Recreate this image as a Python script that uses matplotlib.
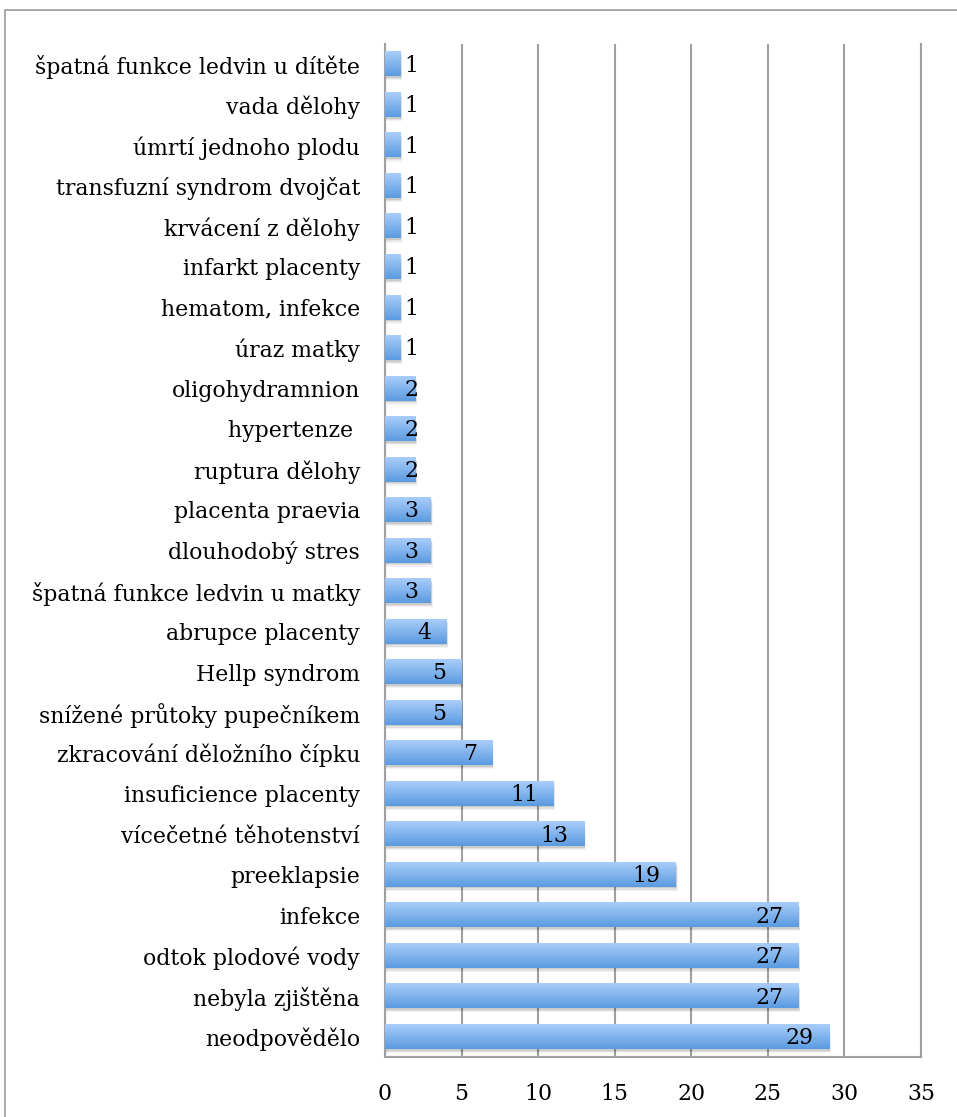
import matplotlib.pyplot as plt
from matplotlib.patches import Rectangle
import numpy as np

# data, bottom -> top
kategorie = ["neodpovědělo", "nebyla zjištěna", "odtok plodové vody", "infekce",
             "preeklapsie", "vícečetné těhotenství", "insuficience placenty",
             "zkracování děložního čípku", "snížené průtoky pupečníkem",
             "Hellp syndrom", "abrupce placenty", "špatná funkce ledvin u matky",
             "dlouhodobý stres", "placenta praevia", "ruptura dělohy",
             "hypertenze ", "oligohydramnion", "úraz matky", "hematom, infekce",
             "infarkt placenty", "krvácení z dělohy", "transfuzní syndrom dvojčat",
             "úmrtí jednoho plodu", "vada dělohy", "špatná funkce ledvin u dítěte"]
pocty = [29, 27, 27, 27, 19, 13, 11, 7, 5, 5, 4, 3, 3, 3, 2, 2, 2, 1, 1, 1, 1, 1, 1, 1, 1]
xticks = [0, 5, 10, 15, 20, 25, 30, 35]

plt.rcParams['font.family'] = ['DejaVu Serif']
fs = 15.8

fig = plt.figure(figsize=(9.57, 11.17), dpi=100)
ax = fig.add_axes([385/957, 1-1057/1117, (921-385)/957, (1057-44)/1117])

# outer frame
fig.patches.append(Rectangle((5/957, -0.01), 1.0, 1-10/1117+0.01, transform=fig.transFigure,
                             fill=False, edgecolor='#9a9a9a', linewidth=1.2))

y = np.arange(len(kategorie))
h = 0.6
grad = np.linspace(0, 1, 50).reshape(-1, 1)
cmap = plt.matplotlib.colors.LinearSegmentedColormap.from_list('g', ['#5b9be0', '#a9cdfa'])

for i, v in enumerate(pocty):
    # soft shadow
    for k, a in [(0.10, 0.05), (0.07, 0.07), (0.04, 0.09)]:
        ax.add_patch(Rectangle((0, i - h/2 - k), v + k * 1.2, h, facecolor='#000000', alpha=a,
                               edgecolor='none', zorder=2))
    ax.imshow(grad, extent=[0, v, i + h/2, i - h/2], cmap=cmap, aspect='auto',
              interpolation='bilinear', zorder=3)
    if v >= 4:
        ax.annotate(str(v), (v, i), xytext=(-11, -1), textcoords='offset points',
                    ha='right', va='center', fontsize=fs, zorder=4)
    else:
        ax.annotate(str(v), (0, i), xytext=(14, -1), textcoords='offset points',
                    ha='left', va='center', fontsize=fs, zorder=4)

ax.set_xlim(0, 35)
ax.set_ylim(-0.5, len(kategorie) - 0.5)
ax.set_xticks(xticks)
ax.set_yticks(y)
ax.set_yticklabels(kategorie, fontsize=fs)
ax.tick_params(axis='x', length=0, labelsize=fs, pad=19)
ax.tick_params(axis='y', length=0, pad=18)
ax.grid(axis='x', color='#a0a0a0', linewidth=1.5, zorder=1)
ax.set_axisbelow(True)
for s in ['left', 'bottom', 'right']:
    ax.spines[s].set_color('#a0a0a0')
    ax.spines[s].set_linewidth(1.5)
ax.spines['top'].set_visible(False)

fig.savefig('out.png', dpi=100)
